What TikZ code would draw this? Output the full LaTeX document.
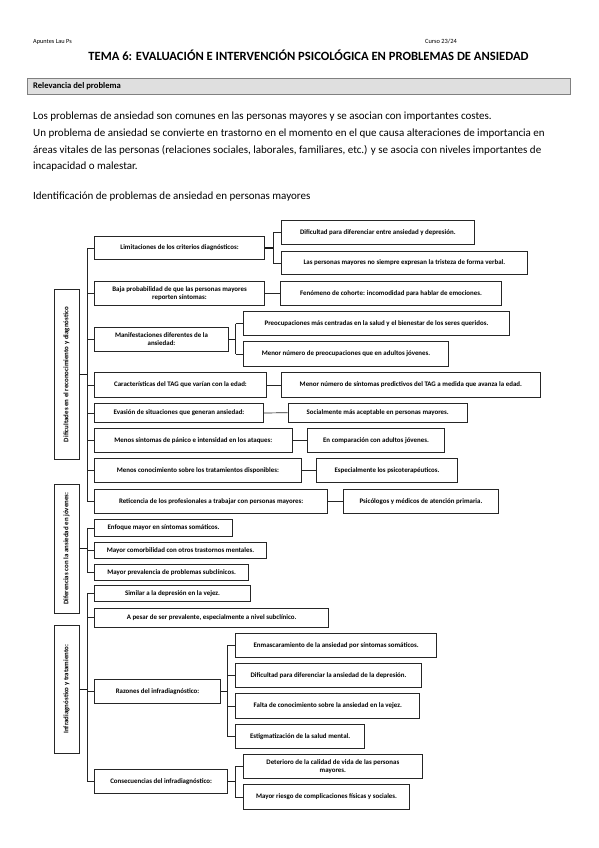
\documentclass[tikz,border=0pt]{standalone}
\usepackage{fontspec}
\setmainfont{Carlito}
\tikzset{
  box/.style={draw=black!85, line width=1pt, anchor=north west, inner sep=1pt,
    font=\fontsize{6.9}{7.6}\selectfont\bfseries, align=center},
  lab/.style={box, rotate=90, anchor=center, minimum height=25pt},
  conn/.style={line width=0.7pt, draw=black!85},
  thick conn/.style={line width=1.3pt, draw=black!90},
  body/.style={anchor=west, inner sep=0pt, font=\fontsize{11}{12}\selectfont},
}
\newcommand\diabox[6]{\node[box, minimum width={#4pt-#2pt}, minimum height={#5pt-#3pt}] (#1) at (#2,#3) {#6};}
\begin{document}
\begin{tikzpicture}[x=1pt,y=-1pt]
\useasboundingbox[fill=white] (0,0) rectangle (599,848);
% header
\node[anchor=west, inner sep=0pt, font=\fontsize{6.3}{7}\selectfont] (ap) at (33,42) {Apuntes Lau Ps};
\node[anchor=west, inner sep=0pt, font=\fontsize{6.4}{7}\selectfont] (cu) at (425,41) {Curso 23/24};
\node[inner sep=0pt, font=\fontsize{12.6}{14}\selectfont\bfseries] (ti) at (308.5,55) {TEMA 6: EVALUACIÓN E INTERVENCIÓN PSICOLÓGICA EN PROBLEMAS DE ANSIEDAD};
\node[draw=gray, fill=gray!25, line width=0.9pt, anchor=north west, minimum width=543pt, minimum height=16pt, inner sep=0pt] (bar) at (27,78) {};
\node[anchor=west, inner sep=0pt, font=\fontsize{8.6}{10}\selectfont\bfseries] (rel) at (33,86) {Relevancia del problema};
% paragraph
\node[body] (p1) at (33,117) {Los problemas de ansiedad son comunes en las personas mayores y se asocian con importantes costes.};
\node[body] (p2) at (33,133.5) {Un problema de ansiedad se convierte en trastorno en el momento en el que causa alteraciones de importancia en};
\node[body] (p3) at (33,150) {áreas vitales de las personas (relaciones sociales, laborales, familiares, etc.) y se asocia con niveles importantes de};
\node[body] (p4) at (33,166.5) {incapacidad o malestar.};
\node[body] (p5) at (33,197) {Identificación de problemas de ansiedad en personas mayores};
% group labels
\node[lab, minimum width=170.7pt] (lab1) at (66.5,374.6) {Dificultades en el reconocimiento y diagnóstico};
\node[lab, minimum width=129.3pt] (lab2) at (66.5,548.7) {Diferencias con la ansiedad en jóvenes:};
\node[lab, minimum width=128.3pt] (lab3) at (66.5,689.2) {Infradiagnóstico y tratamiento:};
% group 1
\diabox{lim}{94}{236}{264}{259}{Limitaciones de los criterios diagnósticos:}
\diabox{dif}{280.7}{220}{474}{244}{Dificultad para diferenciar entre ansiedad y depresión.}
\diabox{per}{280.7}{250.7}{527}{274}{Las personas mayores no siempre expresan la tristeza de forma verbal.}
\diabox{baja}{94}{280.7}{264}{305}{Baja probabilidad de que las personas mayores\\reporten síntomas:}
\diabox{fen}{280}{280.7}{501}{305}{Fenómeno de cohorte: incomodidad para hablar de emociones.}
\diabox{man}{94}{326.7}{228}{350.7}{Manifestaciones diferentes de la\\ansiedad:}
\diabox{pre}{243}{310.7}{509}{335.3}{Preocupaciones más centradas en la salud y el bienestar de los seres queridos.}
\diabox{men}{243}{341}{448}{366}{Menor número de preocupaciones que en adultos jóvenes.}
\diabox{car}{94}{372}{266}{397}{Características del TAG que varían con la edad:}
\diabox{mns}{280.7}{372}{540}{397}{Menor número de síntomas predictivos del TAG a medida que avanza la edad.}
\diabox{eva}{94}{403}{263}{422}{Evasión de situaciones que generan ansiedad:}
\diabox{soc}{287.7}{402.7}{466.7}{421.7}{Socialmente más aceptable en personas mayores.}
\diabox{mst}{94}{427.7}{291.7}{451.7}{Menos síntomas de pánico e intensidad en los ataques:}
\diabox{enc}{307}{427.7}{444}{451.7}{En comparación con adultos jóvenes.}
\diabox{mco}{94}{458}{300.7}{482}{Menos conocimiento sobre los tratamientos disponibles:}
\diabox{esp}{316}{458}{457}{482}{Especialmente los psicoterapéuticos.}
\diabox{ret}{94}{489}{327.3}{512.7}{Reticencia de los profesionales a trabajar con personas mayores:}
\diabox{psi}{342.7}{489}{498.3}{512.7}{Psicólogos y médicos de atención primaria.}
% group 2
\diabox{enf}{94}{519}{232}{535.7}{Enfoque mayor en síntomas somáticos.}
\diabox{com}{94}{541.7}{266}{558.3}{Mayor comorbilidad con otros trastornos mentales.}
\diabox{prev}{94}{564}{248.3}{580}{Mayor prevalencia de problemas subclínicos.}
% group 3
\diabox{sim}{94}{585}{250}{601}{Similar a la depresión en la vejez.}
\diabox{ape}{94}{607.5}{328.3}{627}{A pesar de ser prevalente, especialmente a nivel subclínico.}
\diabox{raz}{94}{679}{220}{702.7}{Razones del infradiagnóstico:}
\diabox{enm}{235.3}{632.7}{436}{656.7}{Enmascaramiento de la ansiedad por síntomas somáticos.}
\diabox{dfc}{235.3}{662.7}{420.7}{686.7}{Dificultad para diferenciar la ansiedad de la depresión.}
\diabox{fal}{235.3}{693.3}{419.3}{717.7}{Falta de conocimiento sobre la ansiedad en la vejez.}
\diabox{est}{235.3}{724}{364}{748.3}{Estigmatización de la salud mental.}
\diabox{cons}{94}{769.3}{227.3}{793.3}{Consecuencias del infradiagnóstico:}
\diabox{det}{242.7}{754}{422}{778.3}{Deterioro de la calidad de vida de las personas\\mayores.}
\diabox{may}{242.7}{784.3}{409.3}{808.7}{Mayor riesgo de complicaciones físicas y sociales.}
% trunk coordinates
\coordinate (tr) at (87,0);
\coordinate (b1) at (273,0);
\coordinate (b2) at (235.5,0);
\coordinate (b3) at (227,0);
\coordinate (b4) at (235,0);
% group 1 connectors
\draw[thick conn] (lab1.south) -- (lab1.south -| tr);
\draw[conn] (lim.west -| tr) -- (ret.west -| tr);
\foreach \n in {lim,baja,man,car,eva,mst,mco,ret} \draw[conn] (\n.west -| tr) -- (\n.west);
\draw[thick conn] (lim.east) -- (lim.east -| b1);
\draw[conn] (dif.west -| b1) -- (per.west -| b1);
\foreach \n in {dif,per} \draw[conn] (\n.west -| b1) -- (\n.west);
\draw[conn] (baja.east) -- (fen.west);
\draw[thick conn] (man.east) -- (man.east -| b2);
\draw[conn] (pre.west -| b2) -- (men.west -| b2);
\foreach \n in {pre,men} \draw[conn] (\n.west -| b2) -- (\n.west);
\draw[conn] (car.east) -- (mns.west);
\draw[conn] (eva.east) -- (soc.west);
\draw[conn] (mst.east) -- (enc.west);
\draw[conn] (mco.east) -- (esp.west);
\draw[conn] (ret.east) -- (psi.west);
% group 2 connectors
\draw[thick conn] (lab2.south) -- (lab2.south -| tr);
\draw[conn] (enf.west -| tr) -- (prev.west -| tr);
\foreach \n in {enf,com,prev} \draw[conn] (\n.west -| tr) -- (\n.west);
% group 3 connectors
\draw[thick conn] (lab3.south) -- (lab3.south -| tr);
\draw[conn] (sim.west -| tr) -- (cons.west -| tr);
\foreach \n in {sim,ape,raz,cons} \draw[conn] (\n.west -| tr) -- (\n.west);
\draw[thick conn] (raz.east) -- (raz.east -| b3);
\draw[conn] (enm.west -| b3) -- (est.west -| b3);
\foreach \n in {enm,dfc,fal,est} \draw[conn] (\n.west -| b3) -- (\n.west);
\draw[thick conn] (cons.east) -- (cons.east -| b4);
\draw[conn] (det.west -| b4) -- (may.west -| b4);
\foreach \n in {det,may} \draw[conn] (\n.west -| b4) -- (\n.west);
\end{tikzpicture}
\end{document}
